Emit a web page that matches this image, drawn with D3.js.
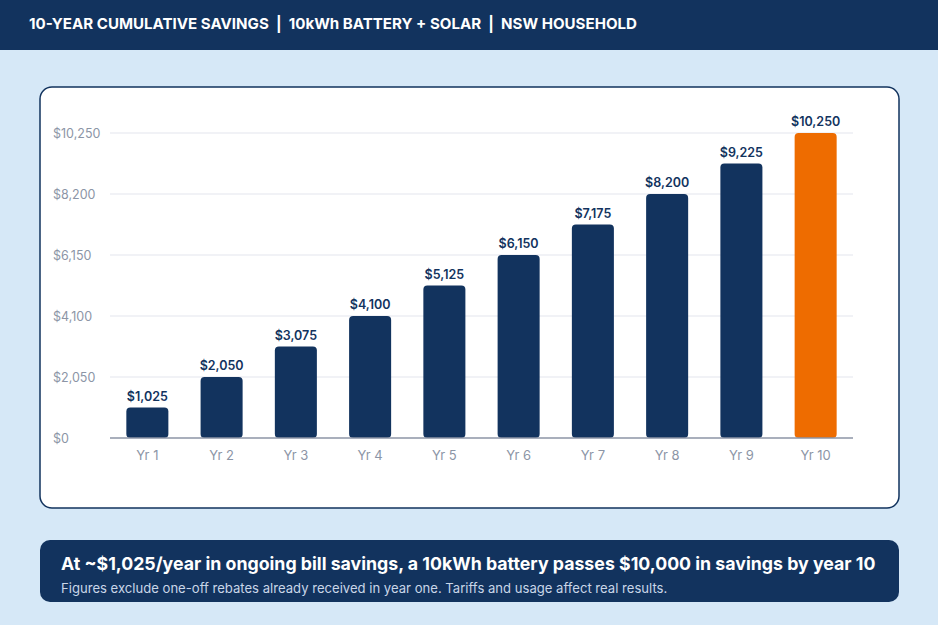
<!DOCTYPE html>
<html>
<head>
<meta charset="utf-8">
<script src="https://cdn.jsdelivr.net/npm/d3@7"></script>
<style>
  body { margin: 0; background: #d6e8f7; }
  svg { display: block; font-family: Inter, "Noto Sans", sans-serif; }
</style>
</head>
<body>
<div id="vis"></div>
<script>
// data
const years = ["Yr 1", "Yr 2", "Yr 3", "Yr 4", "Yr 5", "Yr 6", "Yr 7", "Yr 8", "Yr 9", "Yr 10"];
const savings = [1025, 2050, 3075, 4100, 5125, 6150, 7175, 8200, 9225, 10250];
const yTicks = [0, 2050, 4100, 6150, 8200, 10250];

const W = 938, H = 625;
const NAVY = "#12335e", ORANGE = "#ee6c00", GREY = "#8c95a6";

const svg = d3.select("#vis").append("svg")
    .attr("width", W).attr("height", H);

// background + header
svg.append("rect").attr("width", W).attr("height", H).attr("fill", "#d6e8f7");
svg.append("rect").attr("width", W).attr("height", 50).attr("fill", NAVY);
svg.append("text")
    .attr("x", 29).attr("y", 29)
    .attr("fill", "#fff").attr("font-size", 15.1).attr("font-weight", 700)
    .style("white-space", "pre")
    .text("10-YEAR CUMULATIVE SAVINGS  |  10kWh BATTERY + SOLAR  |  NSW HOUSEHOLD");

// chart card
svg.append("rect")
    .attr("x", 40).attr("y", 87).attr("width", 859).attr("height", 421)
    .attr("rx", 12).attr("fill", "#fff")
    .attr("stroke", NAVY).attr("stroke-width", 1.5);

// scales
const X_SCALE = d3.scaleBand()
    .domain(years)
    .range([110, 853])
    .paddingInner(0.434)
    .paddingOuter(0.22);

const Y_SCALE = d3.scaleLinear()
    .domain([0, 10250])
    .range([438, 133]);

// gridlines
svg.append("g")
    .selectAll("line")
    .data(yTicks.filter(d => d > 0))
    .enter().append("line")
      .attr("x1", 110).attr("x2", 853)
      .attr("y1", d => Y_SCALE(d)).attr("y2", d => Y_SCALE(d))
      .attr("stroke", "#e4e6ee").attr("stroke-width", 1.2);

// y axis labels
const yAxis = svg.append("g")
    .attr("transform", "translate(53,0)")
    .call(d3.axisLeft(Y_SCALE).tickValues(yTicks).tickSize(0).tickPadding(0)
        .tickFormat(d => "$" + d3.format(",")(d)));
yAxis.select(".domain").remove();
yAxis.selectAll("text")
    .attr("text-anchor", "start")
    .attr("fill", GREY).attr("font-size", 12.5)
    .attr("font-family", "Inter, sans-serif");

// bars
svg.selectAll(".bar")
    .data(savings)
    .enter().append("rect")
      .attr("class", "bar")
      .attr("x", (d, i) => X_SCALE(years[i]))
      .attr("y", d => Y_SCALE(d))
      .attr("width", X_SCALE.bandwidth())
      .attr("height", d => Y_SCALE(0) - Y_SCALE(d))
      .attr("rx", 4)
      .attr("fill", (d, i) => i === savings.length - 1 ? ORANGE : NAVY);

// value labels
svg.selectAll(".val")
    .data(savings)
    .enter().append("text")
      .attr("class", "val")
      .attr("x", (d, i) => X_SCALE(years[i]) + X_SCALE.bandwidth() / 2)
      .attr("y", d => Y_SCALE(d) - 7)
      .attr("text-anchor", "middle")
      .attr("fill", NAVY).attr("font-size", 12.5).attr("font-weight", 600)
      .text(d => "$" + d3.format(",")(d));

// x axis
const xAxis = svg.append("g")
    .attr("transform", "translate(0,438)")
    .call(d3.axisBottom(X_SCALE).tickSize(0).tickPadding(13));
xAxis.select(".domain").attr("stroke", GREY).attr("stroke-width", 1.5)
    .attr("d", "M110,0H853");
xAxis.selectAll("text")
    .attr("fill", GREY).attr("font-size", 13)
    .attr("font-family", "Inter, sans-serif");

// footer box
svg.append("rect")
    .attr("x", 40).attr("y", 540).attr("width", 859).attr("height", 62)
    .attr("rx", 10).attr("fill", NAVY);
svg.append("text")
    .attr("x", 61).attr("y", 570)
    .attr("fill", "#fff").attr("font-size", 17.75).attr("font-weight", 700)
    .text("At ~$1,025/year in ongoing bill savings, a 10kWh battery passes $10,000 in savings by year 10");
svg.append("text")
    .attr("x", 61).attr("y", 593)
    .attr("fill", "#c9d6e8").attr("font-size", 13.1)
    .text("Figures exclude one-off rebates already received in year one. Tariffs and usage affect real results.");
</script>
</body>
</html>
